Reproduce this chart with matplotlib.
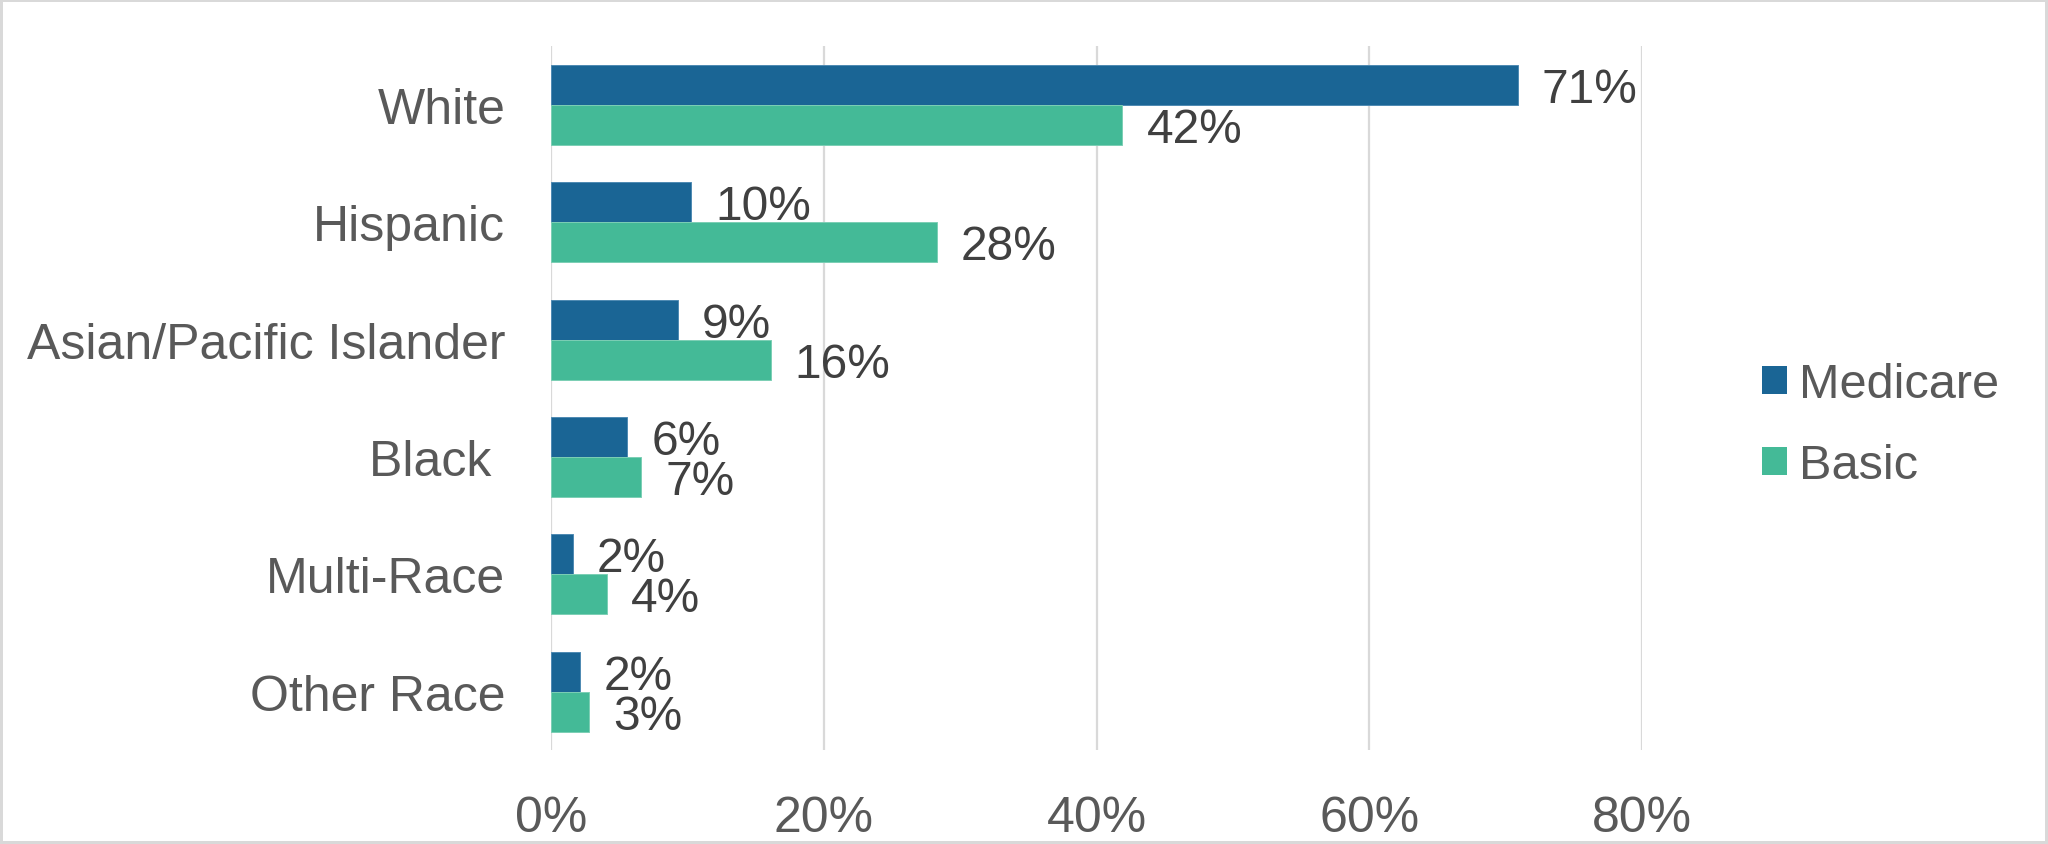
import matplotlib
matplotlib.use("Agg")
import matplotlib.pyplot as plt
from matplotlib.patches import Patch
import numpy as np

plt.rcParams["font.family"] = ["Liberation Sans", "DejaVu Sans"]

categories = ["White", "Hispanic", "Asian/Pacific Islander", "Black ", "Multi-Race", "Other Race"]
medicare = [70.9, 10.3, 9.3, 5.6, 1.6, 2.1]
basic = [41.9, 28.3, 16.1, 6.6, 4.1, 2.8]
series_names = ["Medicare", "Basic"]
xticks = [0, 20, 40, 60, 80]

c_med = "#1A6595"
c_bas = "#44BA97"
tick_col = "#595959"
lab_col = "#404040"

fig = plt.figure(figsize=(20.48, 8.45), dpi=100)
fig.patch.set_facecolor("white")
fig.patch.set_edgecolor("#D9D9D9")
fig.patch.set_linewidth(4.3)

ax = fig.add_axes([551 / 2048, 1 - 751.3 / 845, (1642 - 551) / 2048, (751.3 - 47.3) / 845])
y = np.arange(len(categories))
h = 0.341
ax.barh(y - h / 2, medicare, height=h, color=c_med, edgecolor="#4F8AB3", linewidth=0.7,
        label=series_names[0], zorder=2)
ax.barh(y + h / 2, basic, height=h, color=c_bas, edgecolor="#7CCFB5", linewidth=0.7,
        label=series_names[1], zorder=2)

ax.set_ylim(len(categories) - 0.5, -0.5)
ax.set_xlim(0, 80)
ax.set_xticks(xticks)
ax.set_xticklabels([f"{t}%" for t in xticks])
ax.set_yticks(y)
ax.set_yticklabels(categories)
ax.grid(axis="x", color="#D9D9D9", linewidth=1.6, zorder=0)
ax.set_axisbelow(True)
for s in ax.spines.values():
    s.set_visible(False)
ax.tick_params(axis="both", length=0, labelsize=36, colors=tick_col)
ax.tick_params(axis="y", pad=33)
ax.tick_params(axis="x", pad=32)

for vals, off in ((medicare, -h / 2), (basic, h / 2)):
    for yi, v in zip(y, vals):
        ax.annotate(f"{v:.0f}%", xy=(v, yi + off), xytext=(17.3, -12.35),
                    textcoords="offset points", ha="left", va="baseline",
                    fontsize=34.5, color=lab_col, annotation_clip=False, clip_on=False)

handles = [Patch(facecolor=c_med), Patch(facecolor=c_bas)]
leg = fig.legend(handles, series_names, loc="center left",
                 bbox_to_anchor=(1762 / 2048, 1 - 426 / 845), frameon=False,
                 fontsize=35, handlelength=0.51, handleheight=0.51,
                 handletextpad=0.25, labelspacing=0.75, borderpad=0, borderaxespad=0)
for t in leg.get_texts():
    t.set_color(tick_col)

fig.savefig("out.png", dpi=100)
